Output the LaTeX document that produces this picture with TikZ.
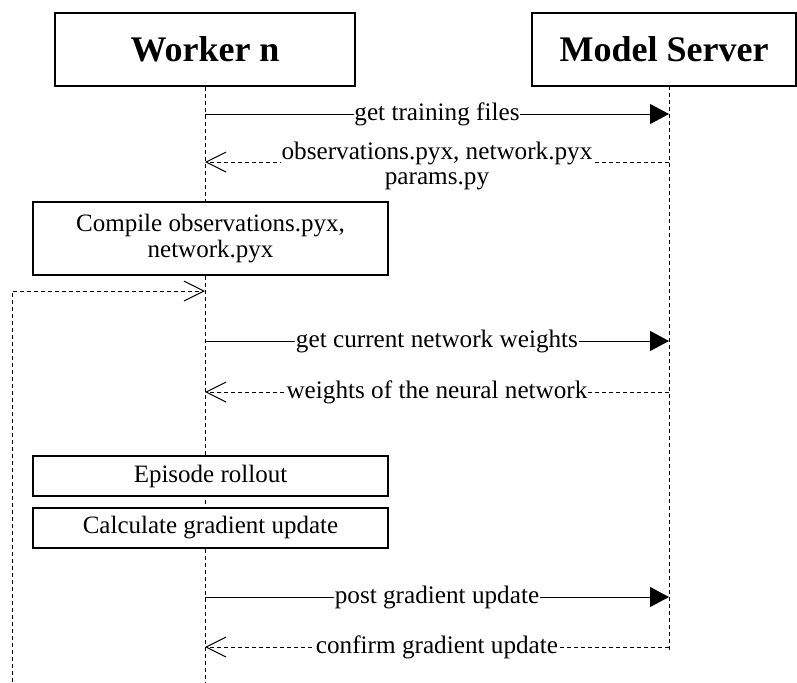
\documentclass[tikz,border=0pt]{standalone}
\usepackage{fontspec}
\setmainfont{Liberation Serif}
\usetikzlibrary{arrows.meta,positioning}

\begin{document}
\begin{tikzpicture}[x=0.5pt,y=-0.5pt,
                actor/.style = {draw, line width=0.9pt, minimum height=36.5pt, font=\fontsize{18}{21}\selectfont\bfseries},
                proc/.style = {draw, line width=0.9pt, fill=white, minimum width=177.5pt, align=center, font=\fontsize{12.5}{12.8}\selectfont},
                life/.style = {line width=0.45pt, dash pattern=on 2pt off 1.5pt},
                call/.style = {line width=0.5pt, -{Triangle[length=9.5pt,width=10pt]}},
                answer/.style = {line width=0.5pt, dash pattern=on 2pt off 1.5pt, -{Straight Barb[length=10pt,width=10pt,line width=0.5pt]}},
                msg/.style = {fill=white, inner xsep=0.4pt, inner ysep=1pt, font=\fontsize{12.6}{12.2}\selectfont}]
            \useasboundingbox (0,0) rectangle (797,682);
            % lifelines
            \node[actor, minimum width=150pt] (worker) at (205,49.5) {Worker n};
            \node[actor, minimum width=132pt] (server) at (664,49.5) {Model Server};
            \coordinate (wend) at (205,682);
            \coordinate (stop) at (669,86);
            \coordinate (send) at (669,653);
            \draw[life] (worker.south) -- (wend);
            \draw[life] (stop) -- (send);
            \foreach \n/\y in {1/114,2/162,3/341,4/392,5/597,6/647}{
                \coordinate (w\n) at (205,\y);
                \coordinate (s\n) at (669,\y);
            }
            % messages
            \draw[call] (w1) -- node[msg] {get training files} (s1);
            \draw[answer] (s2) -- node[msg, align=center, anchor=north, yshift=11pt] {observations.pyx, network.pyx\\params.py} (w2);
            \node[proc, minimum height=36.5pt] (compile) at (210.5,238.5) {Compile observations.pyx,\\network.pyx};
            \coordinate (w0) at (205,291);
            \coordinate (loopfoot) at (12,682);
            \draw[answer] (loopfoot) |- (w0);
            \draw[call] (w3) -- node[msg] {get current network weights} (s3);
            \draw[answer] (s4) -- node[msg] {weights of the neural network} (w4);
            \node[proc, minimum height=20pt] (rollout) at (210.5,476) {Episode rollout};
            \node[proc, minimum height=20pt] (grad) at (210.5,528) {Calculate gradient update};
            \draw[call] (w5) -- node[msg] {post gradient update} (s5);
            \draw[answer] (s6) -- node[msg] {confirm gradient update} (w6);
\end{tikzpicture}
\end{document}
